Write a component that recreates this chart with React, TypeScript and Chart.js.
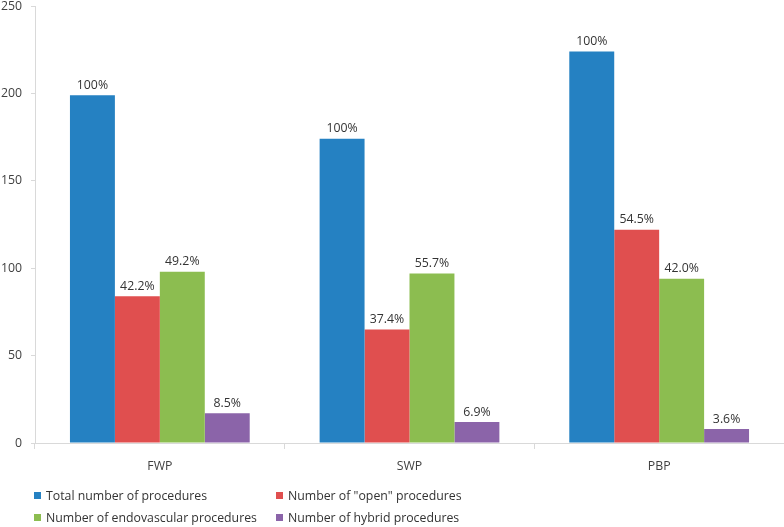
import React, { useEffect, useRef } from "react";
import { Chart, registerables } from "chart.js";

Chart.register(...registerables);

const categories = ["FWP", "SWP", "PBP"];
const seriesNames = [
  "Total number of procedures",
  'Number of "open" procedures',
  "Number of endovascular procedures",
  "Number of hybrid procedures",
];
const totalValues = [199, 174, 224];
const openValues = [84, 65, 122];
const endoValues = [98, 97, 94];
const hybridValues = [17, 12, 8];
const totalPct = ["100%", "100%", "100%"];
const openPct = ["42.2%", "37.4%", "54.5%"];
const endoPct = ["49.2%", "55.7%", "42.0%"];
const hybridPct = ["8.5%", "6.9%", "3.6%"];
const colors = ["#2581C2", "#E04F4F", "#8CBD50", "#8B64A9"];

const FONT = "'Open Sans', 'Noto Sans', sans-serif";

export default function App() {
  const ref = useRef<HTMLCanvasElement>(null);
  useEffect(() => {
    document.body.style.margin = "0";
    const labelsArr = [totalPct, openPct, endoPct, hybridPct];
    const valuePlugin = {
      id: "valueLabels",
      afterDatasetsDraw(chart: any) {
        const ctx = chart.ctx;
        ctx.save();
        ctx.font = `12.3px ${FONT}`;
        ctx.fillStyle = "#333333";
        ctx.textAlign = "center";
        ctx.textBaseline = "middle";
        chart.data.datasets.forEach((ds: any, i: number) => {
          const meta = chart.getDatasetMeta(i);
          meta.data.forEach((bar: any, j: number) => {
            ctx.fillText(labelsArr[i][j], bar.x, bar.y - 10);
          });
        });
        ctx.restore();
      },
    };
    const legendPlugin = {
      id: "customLegend",
      afterDraw(chart: any) {
        const ctx = chart.ctx;
        ctx.save();
        ctx.font = `12.3px ${FONT}`;
        ctx.textBaseline = "middle";
        ctx.textAlign = "left";
        const cols = [34, 276];
        const rows = [496, 518];
        chart.data.datasets.forEach((ds: any, i: number) => {
          const x = cols[i % 2];
          const y = rows[Math.floor(i / 2)];
          ctx.fillStyle = ds.backgroundColor;
          ctx.fillRect(x, y - 4, 7, 7);
          ctx.fillStyle = "#333333";
          ctx.fillText(ds.label, x + 12, y);
        });
        ctx.restore();
      },
    };
    const values = [totalValues, openValues, endoValues, hybridValues];
    const chart = new Chart(ref.current!, {
      type: "bar",
      data: {
        labels: categories,
        datasets: values.map((v, i) => ({
          label: seriesNames[i],
          data: v,
          backgroundColor: colors[i],
          barPercentage: 1,
          categoryPercentage: 0.72,
        })),
      },
      options: {
        animation: false,
        responsive: false,
        maintainAspectRatio: false,
        layout: { padding: { top: 6, right: 0, left: 0, bottom: 0 } },
        plugins: { legend: { display: false }, tooltip: { enabled: false } },
        scales: {
          x: {
            grid: {
              offset: true,
              drawOnChartArea: false,
              tickLength: 6,
              color: "#D9D9D9",
            },
            border: { color: "#D9D9D9" },
            ticks: { color: "#404040", font: { family: FONT, size: 12.3 }, padding: 10 },
            afterFit: (s: any) => {
              s.height = 84;
              s.paddingLeft = 0;
              s.paddingRight = 0;
            },
          },
          y: {
            min: 0,
            max: 250,
            grid: { drawOnChartArea: false, tickLength: 4, color: "#D9D9D9" },
            border: { color: "#D9D9D9" },
            ticks: { stepSize: 50, color: "#404040", font: { family: FONT, size: 12.3 }, padding: 9 },
            afterFit: (s: any) => {
              s.width = 35;
              s.paddingTop = 0;
              s.paddingBottom = 0;
            },
          },
        },
      },
      plugins: [valuePlugin, legendPlugin],
    });
    return () => chart.destroy();
  }, []);
  return <canvas ref={ref} width={784} height={527} style={{ display: "block" }} />;
}
